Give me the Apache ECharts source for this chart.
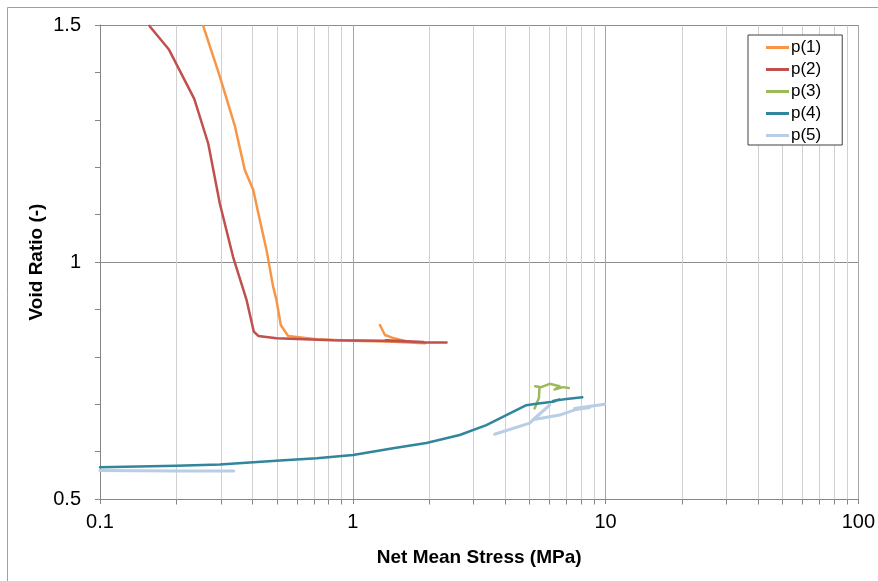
<!DOCTYPE html>
<html>
<head>
<meta charset="utf-8">
<title>Void Ratio vs Net Mean Stress</title>
<script src="https://cdn.jsdelivr.net/npm/echarts@6/dist/echarts.min.js"></script>
<style>
  html, body { margin: 0; padding: 0; background: #fff; }
  #chart { width: 878px; height: 581px; }
</style>
</head>
<body>
<div id="chart"></div>
<script>
// Compression paths: net mean stress (MPa) against void ratio (-)
const p1Stress = [0.256, 0.298, 0.342, 0.374, 0.404, 0.423, 0.456, 0.484, 0.499, 0.519, 0.555, 0.719, 1.003, 1.45, 1.93, 1.70, 1.44, 1.34, 1.28];
const p1Void   = [1.498, 1.391, 1.286, 1.194, 1.152, 1.103, 1.025, 0.948, 0.920, 0.867, 0.844, 0.837, 0.834, 0.832, 0.8285, 0.830, 0.840, 0.846, 0.867];

const p2Stress = [0.157, 0.187, 0.236, 0.268, 0.298, 0.336, 0.380, 0.406, 0.423, 0.499, 0.834, 1.31, 1.90, 1.35, 1.95, 2.35];
const p2Void   = [1.498, 1.449, 1.344, 1.250, 1.123, 1.011, 0.920, 0.853, 0.844, 0.839, 0.835, 0.834, 0.831, 0.835, 0.830, 0.830];

const p3Stress = [5.24, 5.45, 5.48, 5.27, 5.57, 6.01, 6.58, 6.29, 6.78, 7.16];
const p3Void   = [0.691, 0.713, 0.736, 0.738, 0.736, 0.743, 0.738, 0.731, 0.736, 0.734];

const p4Stress = [0.1, 0.200, 0.298, 0.515, 0.72, 1.003, 1.443, 1.956, 2.648, 3.377, 4.051, 4.861, 5.322, 6.190, 6.579, 6.20, 7.00, 8.09];
const p4Void   = [0.567, 0.570, 0.573, 0.581, 0.586, 0.593, 0.607, 0.618, 0.635, 0.656, 0.677, 0.698, 0.701, 0.705, 0.710, 0.707, 0.711, 0.7145];

// null marks a break between the two recorded stages
const p5Stress = [0.1, 0.2, 0.338, null, 3.64, 5.01, 6.01, 5.15, 6.58, 7.66, 8.65, 7.54, 9.91];
const p5Void   = [0.560, 0.559, 0.559, null, 0.6365, 0.660, 0.698, 0.667, 0.677, 0.689, 0.693, 0.691, 0.700];

const seriesNames = ['p(1)', 'p(2)', 'p(3)', 'p(4)', 'p(5)'];
const seriesColors = ['#F79646', '#C0504D', '#9BBB59', '#31859C', '#B9CDE5'];

// Axis ranges
const stressMin = 0.1, stressMax = 100;
const voidMin = 0.5, voidMax = 1.5, voidStep = 0.5;

// Intermediate log-decade values (2..9 in each decade) for the light grid
const minorStress = [];
[0.1, 1, 10].forEach(function (d) {
  for (let k = 2; k <= 9; k++) minorStress.push(+(k * d).toPrecision(3));
});

function pairs(xs, ys) {
  return xs.map(function (x, i) {
    return (x === null || ys[i] === null) ? ['-', '-'] : [x, ys[i]];
  });
}

const FONT = '"Liberation Sans", Arial, sans-serif';
const AXIS_GREY = '#868686';

const chart = echarts.init(document.getElementById('chart'), null, { renderer: 'canvas' });

const lineSeries = [
  [p1Stress, p1Void], [p2Stress, p2Void], [p3Stress, p3Void], [p4Stress, p4Void], [p5Stress, p5Void]
].map(function (d, i) {
  return {
    name: seriesNames[i],
    type: 'line',
    data: pairs(d[0], d[1]),
    showSymbol: false,
    symbol: 'none',
    connectNulls: false,
    z: 3,
    lineStyle: { color: seriesColors[i], width: i === 4 ? 3 : 2.5, cap: 'round', join: 'round' },
    itemStyle: { color: seriesColors[i] }
  };
});

chart.setOption({
  animation: false,
  backgroundColor: '#fff',
  textStyle: { fontFamily: FONT },
  graphic: [
    { type: 'line', shape: { x1: 7.5, y1: 7.5, x2: 878, y2: 7.5 }, style: { stroke: '#a0a0a0', lineWidth: 1 }, silent: true },
    { type: 'line', shape: { x1: 7.5, y1: 7.5, x2: 7.5, y2: 581 }, style: { stroke: '#a0a0a0', lineWidth: 1 }, silent: true }
  ],
  grid: { left: 100, right: 19, top: 25, bottom: 82, containLabel: false },
  legend: {
    data: seriesNames,
    orient: 'vertical',
    left: 748,
    top: 35,
    padding: [4, 21, 1, 18],
    itemGap: 5,
    itemWidth: 23,
    itemHeight: 3,
    icon: 'rect',
    borderColor: '#404040',
    borderWidth: 1,
    borderRadius: 0,
    backgroundColor: '#fff',
    textStyle: { fontFamily: FONT, fontSize: 17, lineHeight: 14, color: '#000', padding: [0, 0, 0, -3] }
  },
  xAxis: {
    type: 'log',
    logBase: 10,
    min: stressMin,
    max: stressMax,
    name: 'Net Mean Stress (MPa)',
    nameLocation: 'middle',
    nameGap: 49,
    nameTextStyle: { fontFamily: FONT, fontSize: 19, fontWeight: 'bold', color: '#000' },
    axisLine: { lineStyle: { color: AXIS_GREY, width: 1 } },
    axisTick: { show: true, length: 5, lineStyle: { color: AXIS_GREY } },
    axisLabel: { fontFamily: FONT, fontSize: 20, color: '#000', margin: 13 },
    splitLine: { show: true, lineStyle: { color: '#a6a6a6', width: 1 } }
  },
  yAxis: {
    type: 'value',
    min: voidMin,
    max: voidMax,
    interval: voidStep,
    name: 'Void Ratio (-)',
    nameLocation: 'middle',
    nameGap: 54,
    nameMoveOverlap: false,
    nameTextStyle: { fontFamily: FONT, fontSize: 19, fontWeight: 'bold', color: '#000' },
    axisLine: { show: true, lineStyle: { color: AXIS_GREY, width: 1 } },
    axisTick: { show: true, length: 5, lineStyle: { color: AXIS_GREY } },
    minorTick: { show: true, splitNumber: 5, length: 5, lineStyle: { color: AXIS_GREY } },
    axisLabel: { fontFamily: FONT, fontSize: 20, color: '#000', margin: 19 },
    splitLine: { show: true, lineStyle: { color: '#8c8c8c', width: 1 } }
  },
  series: [
    {
      name: 'minor-grid',
      type: 'custom',
      silent: true,
      z: 1,
      data: minorStress.map(function (v) { return [v, voidMin]; }),
      encode: { x: 0, y: 1 },
      renderItem: function (params, api) {
        const v = api.value(0);
        const bot = api.coord([v, voidMin]);
        const top = api.coord([v, voidMax]);
        const x = Math.round(bot[0]) + 0.5;
        const yb = Math.round(bot[1]) + 0.5;
        const yt = Math.round(top[1]) + 0.5;
        return {
          type: 'group',
          children: [
            { type: 'line', shape: { x1: x, y1: yb, x2: x, y2: yt }, style: { stroke: '#d0d0d0', lineWidth: 1 } },
            { type: 'line', shape: { x1: x, y1: yb, x2: x, y2: yb + 5 }, style: { stroke: AXIS_GREY, lineWidth: 1 } }
          ]
        };
      }
    }
  ].concat(lineSeries)
});
</script>
</body>
</html>
